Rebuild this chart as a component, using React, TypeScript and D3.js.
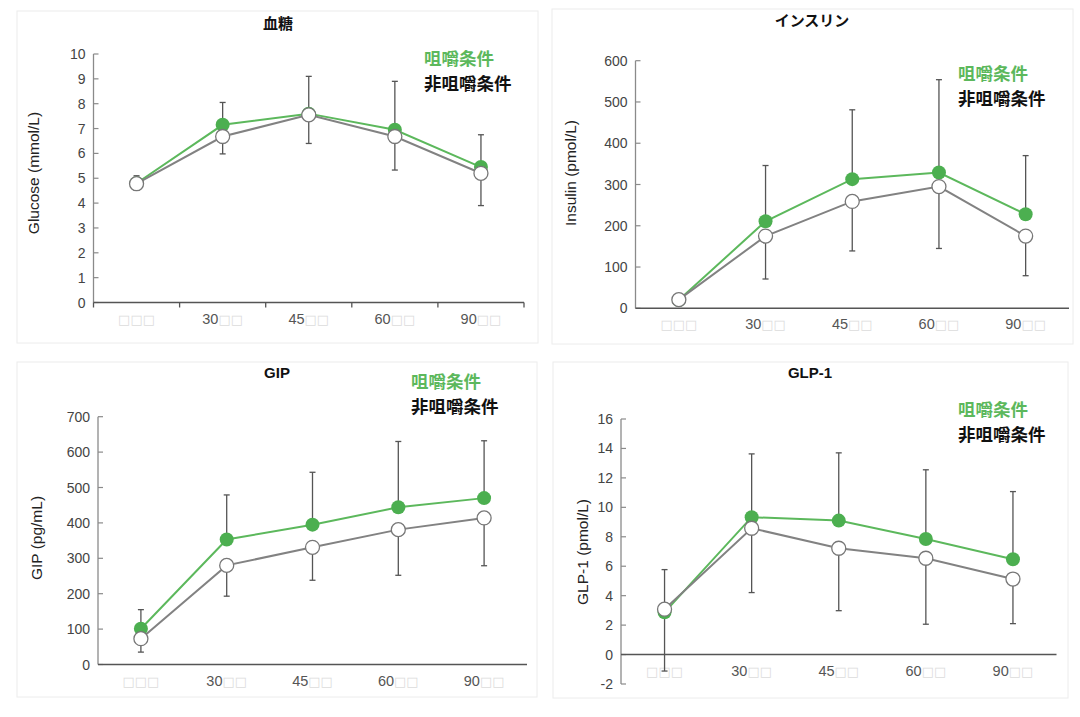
import * as d3 from "d3";

// x categories (the source renders the Japanese time labels as missing glyphs)
const CATEGORIES = ["□□□", "30□□", "45□□", "60□□", "90□□"];
const LEGEND = ["咀嚼条件", "非咀嚼条件"];

// 血糖, mmol/L
const GLUCOSE_CHEW = [4.8, 7.15, 7.6, 6.95, 5.45];
const GLUCOSE_CHEW_SD = [0.3, 0.9, 1.5, 1.95, 1.3];
const GLUCOSE_NON = [4.78, 6.68, 7.55, 6.68, 5.2];
const GLUCOSE_NON_SD = [0.25, 0.7, 1.15, 1.35, 1.3];
const GLUCOSE_TICKS = [0, 1, 2, 3, 4, 5, 6, 7, 8, 9, 10];

// インスリン, pmol/L
const INSULIN_CHEW = [20, 211, 313, 329, 228];
const INSULIN_CHEW_SD = [8, 135, 168, 225, 142];
const INSULIN_NON = [21, 175, 259, 295, 175];
const INSULIN_NON_SD = [8, 104, 120, 150, 96];
const INSULIN_TICKS = [0, 100, 200, 300, 400, 500, 600];

// GIP, pg/mL
const GIP_CHEW = [101, 353, 395, 444, 470];
const GIP_CHEW_SD = [54, 126, 148, 186, 162];
const GIP_NON = [73, 280, 331, 381, 414];
const GIP_NON_SD = [38, 87, 93, 129, 135];
const GIP_TICKS = [0, 100, 200, 300, 400, 500, 600, 700];

// GLP-1, pmol/L
const GLP1_CHEW = [2.87, 9.33, 9.1, 7.85, 6.47];
const GLP1_CHEW_SD = [2.9, 4.3, 4.6, 4.7, 4.6];
const GLP1_NON = [3.08, 8.58, 7.22, 6.54, 5.13];
const GLP1_NON_SD = [4.2, 4.37, 4.24, 4.48, 3.03];
const GLP1_TICKS = [-2, 0, 2, 4, 6, 8, 10, 12, 14, 16];

const GREEN = "#4caf50";
const GREEN_LINE = "#5cb85c";
const GRAY_LINE = "#828282";
const BAR = "#555";
const LATIN = "'Liberation Sans', Arial, sans-serif";
const CJK = "'Noto Sans CJK JP', 'Noto Sans', sans-serif";

type PanelDef = {
  title: string;
  yLabel: string;
  chew: number[];
  chewSd: number[];
  non: number[];
  nonSd: number[];
  ticks: number[];
  xTicks: boolean;
  box: [number, number, number, number];
  plot: { left: number; right: number; top: number; bottom: number };
  titlePos: [number, number];
  legendPos: [number, number];
  yLabelPos: [number, number];
};

const PANELS: PanelDef[] = [
  {
    title: "血糖",
    yLabel: "Glucose (mmol/L)",
    chew: GLUCOSE_CHEW,
    chewSd: GLUCOSE_CHEW_SD,
    non: GLUCOSE_NON,
    nonSd: GLUCOSE_NON_SD,
    ticks: GLUCOSE_TICKS,
    xTicks: true,
    box: [17, 11, 521, 332],
    plot: { left: 93.5, right: 524, top: 54, bottom: 302.5 },
    titlePos: [278, 23],
    legendPos: [424, 57],
    yLabelPos: [33, 173],
  },
  {
    title: "インスリン",
    yLabel: "Insulin (pmol/L)",
    chew: INSULIN_CHEW,
    chewSd: INSULIN_CHEW_SD,
    non: INSULIN_NON,
    nonSd: INSULIN_NON_SD,
    ticks: INSULIN_TICKS,
    xTicks: false,
    box: [552, 9, 521, 335],
    plot: { left: 635.5, right: 1069, top: 60.7, bottom: 308.3 },
    titlePos: [812, 20],
    legendPos: [958, 72],
    yLabelPos: [570, 173],
  },
  {
    title: "GIP",
    yLabel: "GIP (pg/mL)",
    chew: GIP_CHEW,
    chewSd: GIP_CHEW_SD,
    non: GIP_NON,
    nonSd: GIP_NON_SD,
    ticks: GIP_TICKS,
    xTicks: false,
    box: [17, 362, 520, 335],
    plot: { left: 98, right: 527, top: 416.7, bottom: 664.5 },
    titlePos: [277, 372],
    legendPos: [411, 380],
    yLabelPos: [36, 538],
  },
  {
    title: "GLP-1",
    yLabel: "GLP-1 (pmol/L)",
    chew: GLP1_CHEW,
    chewSd: GLP1_CHEW_SD,
    non: GLP1_NON,
    nonSd: GLP1_NON_SD,
    ticks: GLP1_TICKS,
    xTicks: false,
    box: [553, 362, 515, 336],
    plot: { left: 621, right: 1056.5, top: 419, bottom: 684 },
    titlePos: [810, 372],
    legendPos: [958, 408],
    yLabelPos: [582, 552],
  },
];

const Panel = ({ p }: { p: PanelDef }) => {
  const xScale = d3
    .scaleBand()
    .domain(CATEGORIES)
    .range([p.plot.left, p.plot.right]);
  const yScale = d3
    .scaleLinear()
    .domain([p.ticks[0], p.ticks[p.ticks.length - 1]])
    .range([p.plot.bottom, p.plot.top]);

  const cx = (i: number) => (xScale(CATEGORIES[i]) || 0) + xScale.bandwidth() / 2;
  const line = d3
    .line<number>()
    .x((_, i) => cx(i))
    .y((d) => yScale(d));

  const zeroY = yScale(Math.max(0, p.ticks[0]));

  const errorBar = (v: number, sd: number, dir: number, i: number) => {
    const x = cx(i);
    const yEnd = yScale(v + dir * sd);
    return (
      <g key={`${dir}-${i}`} stroke={BAR} strokeWidth={1.3}>
        <line x1={x} x2={x} y1={yScale(v)} y2={yEnd} />
        <line x1={x - 3} x2={x + 3} y1={yEnd} y2={yEnd} />
      </g>
    );
  };

  return (
    <g>
      <rect
        x={p.box[0]}
        y={p.box[1]}
        width={p.box[2]}
        height={p.box[3]}
        fill="white"
        stroke="#ececec"
        strokeWidth={1}
      />

      {/* y axis */}
      <line
        x1={p.plot.left}
        x2={p.plot.left}
        y1={p.plot.top}
        y2={p.plot.bottom}
        stroke="#8a8a8a"
        strokeWidth={1.3}
      />
      {p.ticks.map((t) => (
        <g key={t}>
          <line
            x1={p.plot.left}
            x2={p.plot.left + 5}
            y1={yScale(t)}
            y2={yScale(t)}
            stroke="#8a8a8a"
            strokeWidth={1.2}
          />
          <text
            x={p.plot.left - 8}
            y={yScale(t)}
            textAnchor="end"
            dominantBaseline="central"
            fontFamily={LATIN}
            fontSize={14}
            fill="#444"
          >
            {t}
          </text>
        </g>
      ))}

      {/* x axis */}
      <line
        x1={p.plot.left}
        x2={p.plot.right}
        y1={zeroY}
        y2={zeroY}
        stroke="#555"
        strokeWidth={1.6}
      />
      {p.xTicks &&
        d3.range(CATEGORIES.length + 1).map((i) => {
          const x = p.plot.left + i * xScale.step();
          return (
            <line
              key={i}
              x1={x}
              x2={x}
              y1={zeroY}
              y2={zeroY + 5}
              stroke="#555"
              strokeWidth={1.3}
            />
          );
        })}
      {CATEGORIES.map((c, i) => {
        const digits = c.match(/^\d*/)?.[0] || "";
        const rest = c.slice(digits.length);
        return (
          <text
            key={c}
            x={cx(i)}
            y={zeroY + 16}
            textAnchor="middle"
            dominantBaseline="central"
            fontSize={14.5}
          >
            <tspan fontFamily={LATIN} fill="#555">
              {digits}
            </tspan>
            <tspan fontFamily="'DejaVu Sans', sans-serif" fontSize={13} fill="#dcdcdc">
              {rest}
            </tspan>
          </text>
        );
      })}

      {/* title, axis label, legend */}
      <text
        x={p.titlePos[0]}
        y={p.titlePos[1]}
        textAnchor="middle"
        dominantBaseline="central"
        fontFamily={`${LATIN.split(",")[0]}, ${CJK}`}
        fontWeight="bold"
        fontSize={15}
        fill="#111"
      >
        {p.title}
      </text>
      <text
        transform={`translate(${p.yLabelPos[0]},${p.yLabelPos[1]}) rotate(-90)`}
        textAnchor="middle"
        dominantBaseline="central"
        fontFamily={LATIN}
        fontSize={15.5}
        fill="#222"
      >
        {p.yLabel}
      </text>
      <text
        x={p.legendPos[0]}
        y={p.legendPos[1]}
        dominantBaseline="central"
        fontFamily={CJK}
        fontWeight="bold"
        fontSize={17.5}
        fill={GREEN_LINE}
      >
        {LEGEND[0]}
      </text>
      <text
        x={p.legendPos[0]}
        y={p.legendPos[1] + 25.5}
        dominantBaseline="central"
        fontFamily={CJK}
        fontWeight="bold"
        fontSize={17.5}
        fill="#111"
      >
        {LEGEND[1]}
      </text>

      {/* error bars: chewing upward, non-chewing downward */}
      {p.chew.map((v, i) => errorBar(v, p.chewSd[i], 1, i))}
      {p.non.map((v, i) => errorBar(v, p.nonSd[i], -1, i))}

      <path d={line(p.chew) || ""} fill="none" stroke={GREEN_LINE} strokeWidth={2} />
      <path d={line(p.non) || ""} fill="none" stroke={GRAY_LINE} strokeWidth={2} />

      {p.chew.map((v, i) => (
        <circle key={`c${i}`} cx={cx(i)} cy={yScale(v)} r={7} fill={GREEN} />
      ))}
      {p.non.map((v, i) => (
        <circle
          key={`n${i}`}
          cx={cx(i)}
          cy={yScale(v)}
          r={7}
          fill="white"
          stroke="#777"
          strokeWidth={1.3}
        />
      ))}
    </g>
  );
};

export default function App() {
  return (
    <div style={{ position: "absolute", left: 0, top: 0 }}>
      <svg width={1080} height={717} style={{ display: "block", background: "white" }}>
        {PANELS.map((p) => (
          <Panel key={p.title} p={p} />
        ))}
      </svg>
    </div>
  );
}
